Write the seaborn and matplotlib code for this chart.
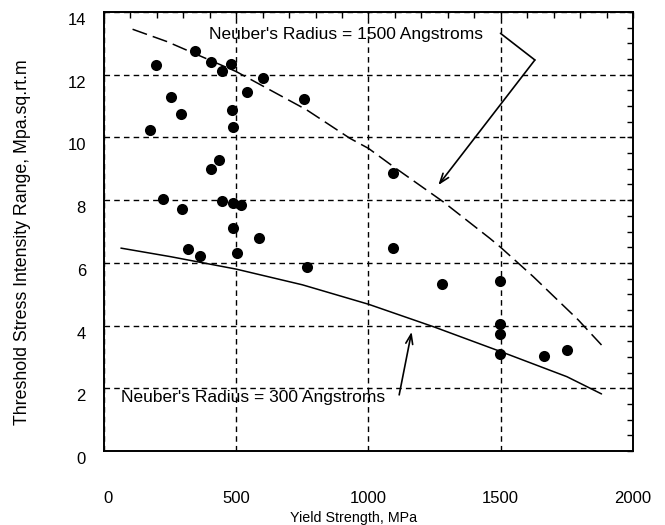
import numpy as np
import pandas as pd
import matplotlib
matplotlib.use("Agg")
import matplotlib.pyplot as plt
import matplotlib.transforms as mtrans
from matplotlib.ticker import MultipleLocator
import seaborn as sns

# ---- data ----
yield_strength = [344, 197, 403, 479, 446, 602, 252, 539, 756, 290, 484, 174, 489,
                  436, 403, 224, 295, 446, 486, 517, 489, 585, 316, 363, 501, 766,
                  1091, 1091, 1277, 1499, 1499, 1499, 1499, 1663, 1749]
threshold = [12.77, 12.31, 12.42, 12.34, 12.13, 11.90, 11.29, 11.44, 11.22, 10.74,
             10.89, 10.25, 10.33, 9.27, 8.99, 8.04, 7.73, 7.96, 7.92, 7.86, 7.12,
             6.78, 6.44, 6.22, 6.31, 5.87, 8.88, 6.47, 5.32, 5.42, 4.05, 3.73,
             3.09, 3.04, 3.23]

r300_x = [64, 250, 500, 750, 1000, 1250, 1500, 1750, 1881]
r300_y = [6.47, 6.2, 5.8, 5.3, 4.68, 3.95, 3.17, 2.37, 1.82]

r1500_x = [108, 237, 500, 766, 930, 1000, 1094, 1282, 1459, 1499, 1623, 1793, 1881]
r1500_y = [13.45, 13.06, 12.1, 10.88, 9.97, 9.65, 9.07, 7.95, 6.78, 6.5, 5.56, 4.18, 3.38]

x_ticks = [0, 500, 1000, 1500, 2000]
y_ticks = [0, 2, 4, 6, 8, 10, 12, 14]

label_1500 = "Neuber's Radius = 1500 Angstroms"
label_300 = "Neuber's Radius = 300 Angstroms"
xlabel = "Yield Strength, MPa"
ylabel = "Threshold Stress Intensity Range, Mpa.sq.rt.m"

# ---- plotting ----
sns.set_style("white")
plt.rcParams['font.family'] = ['Liberation Sans', 'DejaVu Sans']
plt.rcParams['text.color'] = 'black'
plt.rcParams['axes.labelcolor'] = 'black'
plt.rcParams['xtick.color'] = 'black'
plt.rcParams['ytick.color'] = 'black'

fig = plt.figure(figsize=(6.65, 5.25), dpi=100)
ax = fig.add_axes([104/665, 1 - 451/525, (633-104)/665, (451-12)/525])

pts = pd.DataFrame({"x": yield_strength, "y": threshold})
c300 = pd.DataFrame({"x": r300_x, "y": r300_y})
c1500 = pd.DataFrame({"x": r1500_x, "y": r1500_y})

sns.lineplot(data=c300, x="x", y="y", ax=ax, color="black", lw=1.1,
             sort=False, estimator=None)
sns.lineplot(data=c1500, x="x", y="y", ax=ax, color="black", lw=1.1,
             sort=False, estimator=None)
ax.lines[-1].set_dashes((10, 4))
sns.scatterplot(data=pts, x="x", y="y", ax=ax, color="black", s=64,
                edgecolor="black", linewidth=0, zorder=5)

ax.set_xlim(0, 2000)
ax.set_ylim(0, 14)
ax.set_xticks(x_ticks)
ax.set_yticks(y_ticks)
ax.set_xticklabels([str(v) for v in x_ticks])
ax.set_yticklabels([str(v) for v in y_ticks])
ax.xaxis.set_minor_locator(MultipleLocator(100))
ax.yaxis.set_minor_locator(MultipleLocator(0.5))
ax.tick_params(which="both", direction="in", top=True, right=True,
               length=4.5, width=1, color="black")
ax.tick_params(axis="x", which="major", pad=29, labelsize=12, labelcolor="black")
ax.tick_params(axis="y", which="major", pad=13, labelsize=12, labelcolor="black")

for lab in ax.get_yticklabels():
    lab.set_transform(lab.get_transform() +
                      mtrans.ScaledTranslation(0, -7/100, fig.dpi_scale_trans))
for lab in ax.get_xticklabels():
    if lab.get_text() == "0":
        lab.set_transform(lab.get_transform() +
                          mtrans.ScaledTranslation(4/100, 0, fig.dpi_scale_trans))

ax.grid(True, which="major", color="black", linestyle=(0, (4, 3)), lw=1)
for s in ax.spines.values():
    s.set_color("black")
    s.set_linewidth(1.4)

ax.set_xlabel(xlabel, fontsize=10.3, color="black")
ax.set_ylabel(ylabel, fontsize=12.8, color="black")
ax.xaxis.set_label_coords((354-104)/(633-104), -(511-451)/(451-12))
ax.yaxis.label.set_va("center")
ax.yaxis.set_label_coords((22-104)/(633-104), (451-242)/(451-12))

ax.text(397, 13.27, label_1500, fontsize=12.5, va="center", ha="left")
ax.text(64, 1.72, label_300, fontsize=12.5, va="center", ha="left")

ax.annotate("", xy=(1629, 12.47), xytext=(1499, 13.32),
            arrowprops=dict(arrowstyle="-", color="black", lw=1.2,
                            shrinkA=0, shrinkB=0))
ax.annotate("", xy=(1264, 8.48), xytext=(1629, 12.47),
            arrowprops=dict(arrowstyle="->,head_length=0.7,head_width=0.25",
                            color="black", lw=1.2, shrinkA=0, shrinkB=0))
ax.annotate("", xy=(1163, 3.8), xytext=(1116, 1.79),
            arrowprops=dict(arrowstyle="->,head_length=0.7,head_width=0.25",
                            color="black", lw=1.2, shrinkA=0, shrinkB=0))

fig.savefig("out.png", dpi=100)
